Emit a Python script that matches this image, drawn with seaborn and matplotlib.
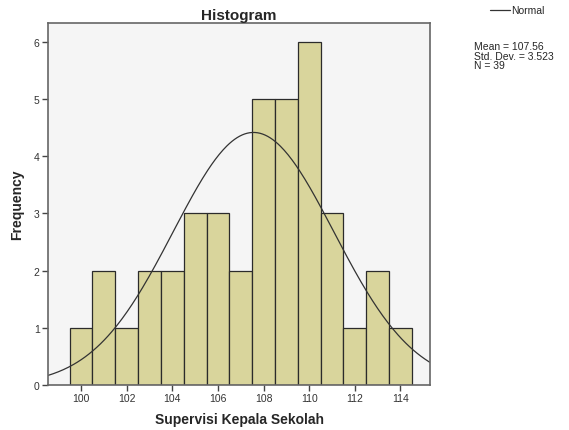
import numpy as np
import pandas as pd
import matplotlib
matplotlib.use("Agg")
import matplotlib.pyplot as plt
import seaborn as sns

values = [100, 101, 102, 103, 104, 105, 106, 107, 108, 109, 110, 111, 112, 113, 114]
counts = [1, 2, 1, 2, 2, 3, 3, 2, 5, 5, 6, 3, 1, 2, 1]
mean_val = 107.56
sd_val = 3.523
n_val = 39
yticks = [0, 1, 2, 3, 4, 5, 6]
xticks = [100, 102, 104, 106, 108, 110, 112, 114]

sns.set_style("white")
plt.rcParams['font.family'] = ['Liberation Sans', 'DejaVu Sans']

fig = plt.figure(figsize=(5.69, 4.31), dpi=100)
ax = fig.add_axes([0.0844, 0.1044, 0.6713, 0.8399])
ax.set_facecolor('#F5F5F5')

df = pd.DataFrame({"x": values, "w": counts})
sns.histplot(data=df, x="x", weights="w", discrete=True, ax=ax,
             color='#D9D59C', alpha=1, edgecolor='#2b2b2b', linewidth=0.9)

xs = np.linspace(98.55, 115.3, 300)
ys = n_val * 1.0 / (sd_val * np.sqrt(2 * np.pi)) * np.exp(-0.5 * ((xs - mean_val) / sd_val) ** 2)
sns.lineplot(x=xs, y=ys, ax=ax, color='#333333', linewidth=0.9)

ax.set_xlim(98.55, 115.3)
ax.set_ylim(0, 6.33)
ax.set_xticks(xticks)
ax.set_yticks(yticks)
ax.tick_params(axis='both', which='both', direction='out', length=4, width=1,
               color='#444444', labelcolor='#333333', labelsize=7.5, pad=2,
               bottom=True, left=True)
for s in ['top', 'right', 'left', 'bottom']:
    ax.spines[s].set_color('#666666')
    ax.spines[s].set_linewidth(1.2)

ax.set_xlabel("Supervisi Kepala Sekolah", fontsize=10, fontweight='bold', labelpad=6)
ax.set_ylabel("Frequency", fontsize=10, fontweight='bold', labelpad=7)
ax.set_title("Histogram", fontsize=11, fontweight='bold', pad=3)

# legend "Normal"
fig.add_artist(plt.Line2D([490/569, 510/569], [1 - 11/431, 1 - 11/431], color='#333333', linewidth=0.9))
fig.text(511/569, 1 - 11/431, "Normal", fontsize=7.5, va='center', ha='left')

fig.text(474/569, 1 - 42/431,
         f"Mean = {mean_val}\nStd. Dev. = {sd_val}\nN = {n_val}",
         fontsize=7.5, va='top', ha='left', linespacing=0.95)

fig.savefig("out.png", dpi=100)
